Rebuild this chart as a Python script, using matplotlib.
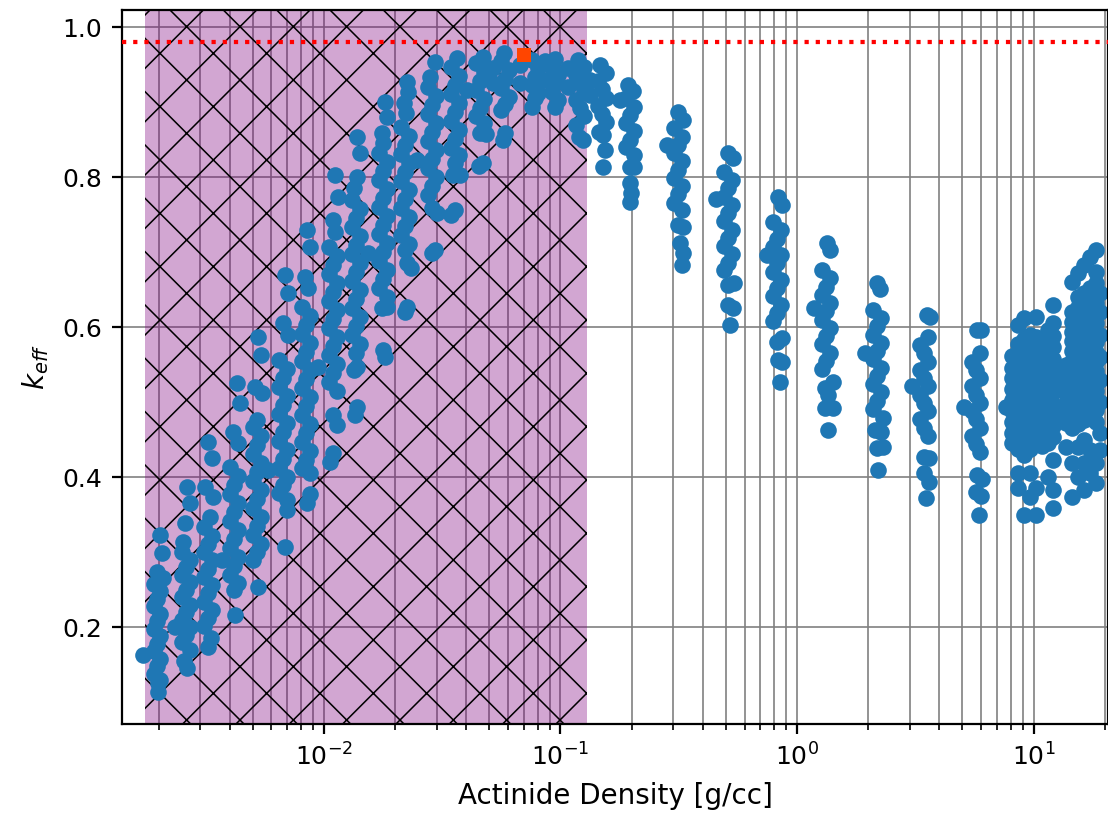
import matplotlib
matplotlib.use("Agg")
import matplotlib.pyplot as plt
import numpy as np

plt.rcParams['hatch.linewidth'] = 0.7
plt.rcParams['hatch.color'] = 'black'
plt.rcParams['axes.linewidth'] = 1.0
plt.rcParams['xtick.major.width'] = 1.0
plt.rcParams['ytick.major.width'] = 1.0
plt.rcParams['xtick.minor.width'] = 0.75
plt.rcParams['xtick.major.size'] = 4.4
plt.rcParams['ytick.major.size'] = 4.4
plt.rcParams['xtick.minor.size'] = 2.5
plt.rcParams['xtick.major.pad'] = 4.4
plt.rcParams['ytick.major.pad'] = 4.4

# actinide density [g/cc] and keff, one list pair per density group
x01 = [0.00203, 0.00207, 0.00197, 0.00209, 0.00191, 0.00203, 0.00197, 0.00191, 0.00203, 0.00197, 0.00191,
       0.00203, 0.00197, 0.00191, 0.00203, 0.00197, 0.00191, 0.00203, 0.00172, 0.00199, 0.00199]
k01 = [0.323, 0.299, 0.273, 0.265, 0.258, 0.248, 0.238, 0.228, 0.218, 0.208, 0.198, 0.188, 0.178, 0.168,
       0.158, 0.148, 0.138, 0.130, 0.163, 0.113, 0.125]

x02 = [0.00264, 0.00271, 0.00258, 0.00253, 0.00251, 0.00271, 0.00261, 0.00251, 0.00271, 0.00261, 0.00251,
       0.00271, 0.00261, 0.00251, 0.00271, 0.00261, 0.00251, 0.00271, 0.00264, 0.00256]
k02 = [0.387, 0.365, 0.339, 0.313, 0.300, 0.290, 0.280, 0.270, 0.260, 0.250, 0.240, 0.230, 0.220, 0.210,
       0.200, 0.190, 0.180, 0.170, 0.145, 0.155]

x03 = [0.00323, 0.00336, 0.00314, 0.00340, 0.00329, 0.00311, 0.00336, 0.00323, 0.00311, 0.00336, 0.00323,
       0.00311, 0.00336, 0.00323, 0.00311, 0.00336, 0.00323, 0.00311, 0.00323, 0.00333]
k03 = [0.447, 0.425, 0.387, 0.373, 0.347, 0.333, 0.322, 0.311, 0.300, 0.289, 0.278, 0.267, 0.256, 0.245,
       0.234, 0.223, 0.212, 0.202, 0.173, 0.185]

x04 = [0.00429, 0.00441, 0.00412, 0.00433, 0.00400, 0.00433, 0.00416, 0.00400, 0.00433, 0.00416, 0.00400,
       0.00433, 0.00416, 0.00400, 0.00433, 0.00416, 0.00400, 0.00433, 0.00416, 0.00420]
k04 = [0.525, 0.499, 0.460, 0.445, 0.413, 0.401, 0.389, 0.377, 0.365, 0.353, 0.341, 0.329, 0.317, 0.305,
       0.293, 0.281, 0.269, 0.259, 0.249, 0.216]

x05 = [0.00526, 0.00542, 0.00511, 0.00547, 0.00521, 0.00501, 0.00542, 0.00521, 0.00501, 0.00542, 0.00521,
       0.00501, 0.00542, 0.00521, 0.00501, 0.00542, 0.00521, 0.00501, 0.00542, 0.00521, 0.00501, 0.00526]
k05 = [0.587, 0.563, 0.520, 0.512, 0.476, 0.467, 0.455, 0.443, 0.431, 0.419, 0.407, 0.395, 0.383, 0.371,
       0.359, 0.347, 0.335, 0.323, 0.311, 0.300, 0.289, 0.253]

x06 = [0.00684, 0.00705, 0.00671, 0.00705, 0.00645, 0.00698, 0.00671, 0.00645, 0.00698, 0.00671, 0.00645,
       0.00698, 0.00671, 0.00645, 0.00698, 0.00671, 0.00645, 0.00698, 0.00671, 0.00645, 0.00698, 0.00698,
       0.00684]
k06 = [0.669, 0.645, 0.605, 0.589, 0.556, 0.544, 0.532, 0.520, 0.508, 0.496, 0.484, 0.472, 0.460, 0.448,
       0.436, 0.424, 0.412, 0.400, 0.389, 0.379, 0.369, 0.356, 0.307]

x07 = [0.00847, 0.00873, 0.00831, 0.00856, 0.00807, 0.00873, 0.00839, 0.00807, 0.00873, 0.00839, 0.00807,
       0.00873, 0.00839, 0.00807, 0.00873, 0.00839, 0.00807, 0.00873, 0.00839, 0.00807, 0.00873, 0.00839,
       0.00807, 0.00873, 0.00847, 0.00873]
k07 = [0.729, 0.707, 0.667, 0.652, 0.627, 0.615, 0.603, 0.591, 0.579, 0.567, 0.555, 0.543, 0.531, 0.519,
       0.507, 0.495, 0.483, 0.471, 0.459, 0.447, 0.435, 0.423, 0.412, 0.405, 0.365, 0.377]

x08 = [0.01112, 0.01145, 0.01091, 0.01112, 0.01049, 0.01134, 0.01091, 0.01049, 0.01134, 0.01091, 0.01049,
       0.01134, 0.01091, 0.01049, 0.01134, 0.01091, 0.01049, 0.01134, 0.01091, 0.01049, 0.01134, 0.01091,
       0.01134, 0.01091, 0.01059]
k08 = [0.803, 0.773, 0.743, 0.727, 0.707, 0.695, 0.683, 0.671, 0.659, 0.647, 0.635, 0.623, 0.611, 0.599,
       0.587, 0.575, 0.563, 0.551, 0.539, 0.527, 0.515, 0.483, 0.470, 0.432, 0.420]

x09 = [0.01378, 0.01420, 0.01378, 0.01338, 0.01312, 0.01420, 0.01365, 0.01312, 0.01420, 0.01365, 0.01312,
       0.01420, 0.01365, 0.01312, 0.01420, 0.01365, 0.01312, 0.01420, 0.01365, 0.01312, 0.01420, 0.01365,
       0.01378, 0.01338, 0.01378, 0.01352]
k09 = [0.853, 0.832, 0.800, 0.785, 0.769, 0.757, 0.745, 0.733, 0.721, 0.709, 0.697, 0.685, 0.673, 0.661,
       0.649, 0.637, 0.625, 0.613, 0.601, 0.589, 0.577, 0.565, 0.547, 0.543, 0.493, 0.483]

x10 = [0.01812, 0.01849, 0.01760, 0.01777, 0.01708, 0.01849, 0.01777, 0.01708, 0.01849, 0.01777, 0.01708,
       0.01849, 0.01777, 0.01708, 0.01849, 0.01777, 0.01708, 0.01849, 0.01777, 0.01708, 0.01849, 0.01760,
       0.01849, 0.01777, 0.01812]
k10 = [0.900, 0.880, 0.859, 0.846, 0.832, 0.820, 0.808, 0.796, 0.784, 0.772, 0.760, 0.748, 0.736, 0.724,
       0.712, 0.700, 0.688, 0.676, 0.664, 0.652, 0.640, 0.625, 0.627, 0.569, 0.560]

x11 = [0.02244, 0.02266, 0.02178, 0.02222, 0.02115, 0.02288, 0.0220, 0.02115, 0.02288, 0.0220, 0.02115,
       0.02288, 0.0220, 0.02115, 0.02288, 0.0220, 0.02115, 0.02288, 0.0220, 0.02244, 0.02334, 0.02244, 0.0220]
k11 = [0.927, 0.913, 0.899, 0.885, 0.867, 0.855, 0.843, 0.831, 0.819, 0.807, 0.795, 0.783, 0.771, 0.759,
       0.747, 0.735, 0.723, 0.711, 0.703, 0.685, 0.679, 0.627, 0.620]

x12 = [0.02946, 0.02805, 0.02751, 0.02975, 0.02861, 0.02751, 0.02975, 0.02861, 0.02751, 0.02975, 0.02861,
       0.02751, 0.02975, 0.02861, 0.02751, 0.02861, 0.03004, 0.02946, 0.02861]
k12 = [0.953, 0.933, 0.920, 0.908, 0.896, 0.884, 0.872, 0.860, 0.848, 0.836, 0.824, 0.812, 0.800, 0.788,
       0.776, 0.759, 0.752, 0.703, 0.699]

x13 = [0.03651, 0.03442, 0.03723, 0.0358, 0.03442, 0.03723, 0.0358, 0.03442, 0.03723, 0.0358, 0.03442,
       0.03723, 0.0358, 0.03511, 0.03760, 0.0358, 0.03442]
k13 = [0.959, 0.947, 0.935, 0.923, 0.911, 0.899, 0.887, 0.875, 0.863, 0.851, 0.839, 0.829, 0.819, 0.803,
       0.803, 0.756, 0.750]

x14 = [0.04701, 0.0439, 0.04748, 0.04566, 0.0439, 0.04748, 0.04566, 0.0439, 0.04748, 0.04566, 0.04845,
       0.04701, 0.04521]
k14 = [0.960, 0.952, 0.940, 0.928, 0.916, 0.904, 0.892, 0.882, 0.872, 0.859, 0.857, 0.819, 0.815]

x15 = [0.05768, 0.0560, 0.06058, 0.05825, 0.0560, 0.06058, 0.05825, 0.0560, 0.05825, 0.05711]
k15 = [0.965, 0.955, 0.943, 0.931, 0.919, 0.907, 0.897, 0.889, 0.859, 0.849]

x16 = [0.07574, 0.08032, 0.07801, 0.07574, 0.08032, 0.07801, 0.07574]
k16 = [0.956, 0.945, 0.934, 0.923, 0.912, 0.905, 0.893]

x17 = [0.09478, 0.0920, 0.09758, 0.09478, 0.0920, 0.09758, 0.09478]
k17 = [0.958, 0.947, 0.936, 0.925, 0.914, 0.903, 0.893]

x18 = [0.1185, 0.1257, 0.1162, 0.1209, 0.1257, 0.1162, 0.1209, 0.1257, 0.1162, 0.1245, 0.1197]
k18 = [0.956, 0.947, 0.936, 0.925, 0.914, 0.903, 0.892, 0.881, 0.870, 0.849, 0.853]

x19 = [0.1469, 0.1558, 0.144, 0.1498, 0.1558, 0.144, 0.1498, 0.1558, 0.1513, 0.1454, 0.1543, 0.1513]
k19 = [0.949, 0.939, 0.928, 0.917, 0.906, 0.895, 0.884, 0.874, 0.856, 0.860, 0.836, 0.813]

x20 = [0.1929, 0.2025, 0.1891, 0.2045, 0.1967, 0.1891, 0.2045, 0.1967, 0.1891, 0.2045, 0.1967, 0.2045,
       0.1967, 0.1986, 0.1967, 0.1781]
k20 = [0.923, 0.915, 0.905, 0.894, 0.883, 0.872, 0.861, 0.850, 0.840, 0.830, 0.813, 0.813, 0.792, 0.779,
       0.767, 0.903]

x21 = [0.314, 0.3297, 0.3019, 0.3265, 0.314, 0.3019, 0.3265, 0.314, 0.3019, 0.3265, 0.314, 0.3019, 0.3265,
       0.2816, 0.314, 0.3297, 0.3202, 0.3297, 0.3265]
k21 = [0.887, 0.876, 0.865, 0.854, 0.843, 0.832, 0.821, 0.810, 0.799, 0.788, 0.777, 0.766, 0.756, 0.843,
       0.736, 0.733, 0.712, 0.699, 0.683]

x22 = [0.5107, 0.5363, 0.4911, 0.531, 0.5107, 0.4911, 0.531, 0.5107, 0.4911, 0.531, 0.5107, 0.4911, 0.531,
       0.5107, 0.4911, 0.4543, 0.5107, 0.5416, 0.5107, 0.5363, 0.5208]
k22 = [0.832, 0.825, 0.807, 0.796, 0.785, 0.774, 0.763, 0.752, 0.741, 0.730, 0.719, 0.708, 0.697, 0.686,
       0.676, 0.771, 0.656, 0.659, 0.629, 0.625, 0.603]

x23 = [0.8312, 0.8644, 0.7915, 0.856, 0.8231, 0.7915, 0.856, 0.8231, 0.7915, 0.856, 0.8231, 0.7915, 0.856,
       0.8231, 0.7915, 0.745, 0.8231, 0.8644, 0.8312, 0.8644, 0.8476]
k23 = [0.773, 0.763, 0.740, 0.729, 0.718, 0.707, 0.696, 0.685, 0.674, 0.663, 0.652, 0.641, 0.630, 0.619,
       0.608, 0.696, 0.580, 0.585, 0.556, 0.553, 0.527]

x24 = [1.339, 1.379, 1.275, 1.379, 1.326, 1.275, 1.379, 1.326, 1.275, 1.379, 1.326, 1.275, 1.379, 1.326,
       1.275, 1.179, 1.42, 1.313, 1.352, 1.42, 1.313, 1.352]
k24 = [0.712, 0.703, 0.676, 0.665, 0.654, 0.643, 0.632, 0.621, 0.610, 0.599, 0.588, 0.577, 0.566, 0.555,
       0.544, 0.625, 0.527, 0.519, 0.510, 0.492, 0.492, 0.463]

x25 = [2.179, 2.244, 2.095, 2.266, 2.179, 2.095, 2.266, 2.179, 2.095, 2.266, 2.179, 2.095, 2.266, 2.179,
       2.095, 1.937, 2.31, 2.137, 2.266, 2.179, 2.31, 2.2]
k25 = [0.659, 0.651, 0.623, 0.612, 0.601, 0.590, 0.579, 0.568, 0.557, 0.546, 0.535, 0.524, 0.513, 0.502,
       0.491, 0.565, 0.479, 0.463, 0.460, 0.439, 0.440, 0.409]

x26 = [3.545, 3.652, 3.58, 3.31, 3.443, 3.58, 3.31, 3.443, 3.58, 3.31, 3.443, 3.58, 3.31, 3.443, 3.58,
       3.06, 3.443, 3.616, 3.443, 3.616, 3.51]
k26 = [0.616, 0.613, 0.587, 0.576, 0.565, 0.554, 0.543, 0.532, 0.521, 0.510, 0.499, 0.488, 0.477, 0.466,
       0.455, 0.521, 0.427, 0.425, 0.405, 0.393, 0.372]

x27 = [5.769, 6.0, 5.941, 5.494, 5.713, 5.941, 5.494, 5.713, 5.941, 5.494, 5.713, 5.941, 5.494, 5.713,
       5.941, 5.077, 5.769, 6.06, 5.713, 6.0, 5.883]
k27 = [0.596, 0.596, 0.565, 0.554, 0.543, 0.532, 0.521, 0.510, 0.499, 0.488, 0.477, 0.466, 0.455, 0.444,
       0.433, 0.493, 0.403, 0.398, 0.380, 0.375, 0.349]

# cases that fall between the main density groups
x_mid = [0.002344, 0.003703, 0.005798, 0.00943, 0.01535, 0.02472, 0.04024,
         0.05184, 0.05184, 0.06741, 0.06741, 0.08601, 0.08601, 0.1076, 0.1076, 0.1332, 0.1332]
k_mid = [0.200, 0.289, 0.409, 0.547, 0.699, 0.823, 0.916,
         0.945, 0.925, 0.950, 0.925, 0.955, 0.930, 0.945, 0.920, 0.930, 0.910]

# dense groups near 10 g/cc: one keff list per density
dens_hi1 = [7.65, 8.11, 8.60, 9.12, 9.67, 10.25, 10.86, 11.52, 12.09]
keff_hi1 = [
    [0.493],
    [0.561, 0.546, 0.532, 0.517, 0.503, 0.488, 0.474, 0.459, 0.445],
    [0.603, 0.577, 0.563, 0.549, 0.535, 0.521, 0.507, 0.493, 0.479, 0.465, 0.451, 0.437, 0.405, 0.385],
    [0.612, 0.584, 0.570, 0.556, 0.542, 0.528, 0.514, 0.500, 0.486, 0.472, 0.458, 0.444, 0.430, 0.349],
    [0.590, 0.576, 0.562, 0.548, 0.534, 0.520, 0.506, 0.492, 0.478, 0.464, 0.450, 0.437, 0.405, 0.373],
    [0.613, 0.587, 0.573, 0.559, 0.545, 0.531, 0.517, 0.503, 0.489, 0.475, 0.461, 0.447, 0.385, 0.349],
    [0.580, 0.566, 0.552, 0.538, 0.524, 0.510, 0.496, 0.482, 0.468, 0.454, 0.441],
    [0.596, 0.582, 0.568, 0.554, 0.540, 0.526, 0.512, 0.498, 0.484, 0.470, 0.456, 0.446, 0.400],
    [0.629, 0.605, 0.588, 0.573, 0.558, 0.543, 0.528, 0.513, 0.498, 0.483, 0.468, 0.453, 0.423, 0.383, 0.359],
]

dens_hi2 = [13.72, 14.55, 15.43, 16.35, 17.34, 18.38, 19.11]
keff_hi2 = [
    [0.550, 0.537, 0.524, 0.511, 0.498, 0.485, 0.472, 0.440],
    [0.660, 0.620, 0.607, 0.594, 0.581, 0.568, 0.555, 0.542, 0.529, 0.516, 0.503, 0.490, 0.477, 0.465,
     0.419, 0.373],
    [0.672, 0.640, 0.627, 0.614, 0.601, 0.588, 0.575, 0.562, 0.549, 0.536, 0.523, 0.510, 0.497, 0.484,
     0.471, 0.440, 0.400],
    [0.683, 0.645, 0.632, 0.619, 0.606, 0.593, 0.580, 0.567, 0.554, 0.541, 0.528, 0.515, 0.502, 0.489,
     0.476, 0.449, 0.419, 0.383],
    [0.693, 0.652, 0.639, 0.626, 0.613, 0.600, 0.587, 0.574, 0.561, 0.548, 0.535, 0.522, 0.509, 0.496,
     0.483, 0.436, 0.405],
    [0.703, 0.673, 0.659, 0.645, 0.632, 0.619, 0.606, 0.593, 0.580, 0.567, 0.554, 0.541, 0.528, 0.515,
     0.502, 0.489, 0.473, 0.419, 0.392],
    [0.645, 0.620, 0.590, 0.560, 0.530, 0.500, 0.459, 0.436],
]

# best case, upper subcritical limit and excluded density band
best_dens = 0.0702
best_keff = 0.963
usl = 0.98
band_lo = 1.75e-3
band_hi = 0.1294

# ---------- collect points ----------
xs = [x01, x02, x03, x04, x05, x06, x07, x08, x09, x10, x11, x12, x13, x14,
      x15, x16, x17, x18, x19, x20, x21, x22, x23, x24, x25, x26, x27, x_mid]
ks = [k01, k02, k03, k04, k05, k06, k07, k08, k09, k10, k11, k12, k13, k14,
      k15, k16, k17, k18, k19, k20, k21, k22, k23, k24, k25, k26, k27, k_mid]
all_x = []
all_k = []
for a, b in zip(xs, ks):
    all_x += a
    all_k += b
for dens, kl in zip(dens_hi1 + dens_hi2, keff_hi1 + keff_hi2):
    all_x += [dens] * len(kl)
    all_k += kl

# ---------- plot ----------
fig = plt.figure(figsize=(6.925, 5.08125), dpi=160)
ax = fig.add_axes([0.1101, 0.1095, 0.8899, 0.8782])
ax.set_xscale('log')

ax.axvspan(band_lo, band_hi, facecolor='purple', alpha=0.35, lw=0, zorder=1)
ax.axvspan(band_lo, band_hi, facecolor='none', edgecolor='black', hatch='x', lw=0, zorder=1.1)

ax.scatter(all_x, all_k, s=56, color='#1f77b4', linewidths=0, zorder=2)
ax.axhline(usl, color='red', ls=':', lw=1.9, zorder=3)
ax.plot([best_dens], [best_keff], 's', color='orangered', ms=5.9, mew=0, zorder=4)

ax.set_axisbelow(True)
ax.grid(True, which='both', axis='x', color='gray', lw=0.75)
ax.grid(True, which='major', axis='y', color='gray', lw=0.75)

ax.set_xlim(1.40e-3, 20.65)
ax.set_ylim(0.0707, 1.0227)
ax.set_yticks([0.2, 0.4, 0.6, 0.8, 1.0])
ax.tick_params(labelsize=11.25)
ax.set_xlabel('Actinide Density [g/cc]', fontsize=12.5, labelpad=5)
ax.set_ylabel('$k_{eff}$', fontsize=12.5, labelpad=5)

fig.savefig('out.png', dpi=160)
